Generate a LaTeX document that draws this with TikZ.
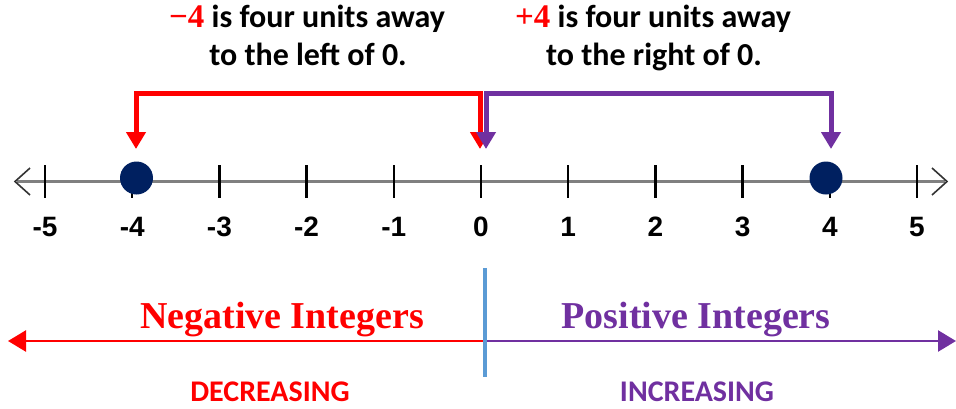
\documentclass[tikz,border=0pt]{standalone}
\usepackage{fontspec}
\setmainfont{Carlito}
\newfontfamily\arialf{Liberation Sans}
\newfontfamily\timesf{Liberation Serif}
\usetikzlibrary{arrows.meta}
\definecolor{myred}{HTML}{FF0000}
\definecolor{mypurple}{HTML}{7030A0}
\definecolor{navy}{HTML}{002060}
\definecolor{lineblue}{HTML}{5B9BD5}
\definecolor{linegray}{HTML}{808080}
\tikzset{
  numlabel/.style={anchor=base, inner sep=0pt, font=\arialf\bfseries\fontsize{28}{30}\selectfont},
  topline/.style={anchor=base, inner sep=0pt, font=\bfseries\fontsize{32}{34}\selectfont},
  bigword/.style={anchor=base, inner sep=0pt, font=\timesf\bfseries\fontsize{38}{40}\selectfont},
  dirword/.style={anchor=base, inner sep=0pt, font=\bfseries\fontsize{30}{32}\selectfont},
  dot/.style={circle, fill=navy, minimum size=33pt, inner sep=0pt},
  tickmark/.style={draw=black, line width=2.5pt},
  bracket/.style={line width=5pt, line join=miter, {Triangle[length=17pt,width=19pt]}-{Triangle[length=17pt,width=19pt]}},
  chevron/.style={draw=black!80, line width=1.6pt},
  halfarrow/.style={line width=2.5pt, -{Triangle[length=18pt,width=21pt]}},
}
\begin{document}
\begin{tikzpicture}[x=1pt,y=-1pt]
\useasboundingbox (0,0) rectangle (956,408);
% number line
\coordinate (nlL) at (17,181);
\coordinate (nlR) at (945,181);
\draw[linegray, line width=3pt] (nlL) -- (nlR);
\draw[chevron] (30,168) -- (15,181.5) -- (30,195);
\draw[chevron] (932,168) -- (947,181.5) -- (932,195);
\foreach \i in {-5,...,5} {
  \coordinate (t\i) at ({481+87.2*\i},181);
  \draw[tickmark] ({481+87.2*\i},165) -- ({481+87.2*\i},198);
  \node[numlabel] (lab\i) at ({481+87.2*\i},236) {\i};
}
% dots
\node[dot] (dneg) at (136.5,178) {};
\node[dot] (dpos) at (826,178) {};
% brackets
\coordinate (rL) at (136,149);
\coordinate (rTL) at (136,93);
\coordinate (rTR) at (480,93);
\coordinate (rR) at (480,149);
\draw[bracket, myred] (rL) -- (rTL) -- (rTR) -- (rR);
\coordinate (pL) at (486,149);
\coordinate (pTL) at (486,93);
\coordinate (pTR) at (831,93);
\coordinate (pR) at (831,149);
\draw[bracket, mypurple] (pL) -- (pTL) -- (pTR) -- (pR);
% top texts
\node[topline] (tl1) at (307,27) {{\timesf\color{myred}\fontsize{33}{33}\selectfont −4} is four units away};
\node[topline] (tl2) at (308,65) {to the left of 0.};
\node[topline] (tr1) at (653,27) {{\timesf\color{myred}\fontsize{33}{33}\selectfont +4} is four units away};
\node[topline] (tr2) at (654,65) {to the right of 0.};
% bottom
\coordinate (mid) at (485,341);
\coordinate (leftend) at (8,341);
\coordinate (rightend) at (956,341);
\coordinate (bT) at (485,268);
\coordinate (bB) at (485,377);
\draw[halfarrow, myred] (mid) -- (leftend);
\draw[halfarrow, mypurple] (mid) -- (rightend);
\draw[lineblue, line width=4pt] (bT) -- (bB);
\node[bigword, text=myred] (neg) at (282,328) {Negative Integers};
\node[bigword, text=mypurple] (pos) at (696,328) {Positive Integers};
\node[dirword, text=myred] (dec) at (270,401) {DECREASING};
\node[dirword, text=mypurple] (inc) at (697,401) {INCREASING};
\end{tikzpicture}
\end{document}
